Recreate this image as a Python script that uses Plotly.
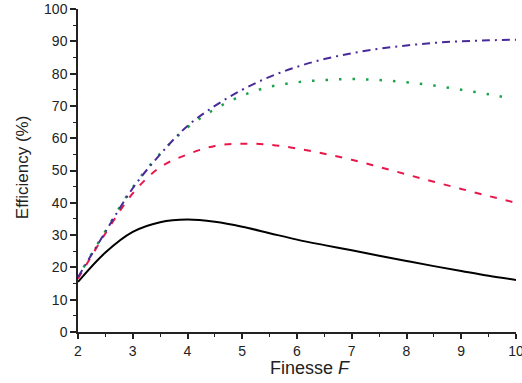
import plotly.graph_objects as go

x_black = [2, 2.5, 3, 3.5, 4, 4.5, 5, 5.5, 6, 6.5, 7, 7.5, 8, 8.5, 9, 9.5, 10]
y_black = [15.5, 24.6, 31.0, 34.0, 34.8, 34.1, 32.6, 30.6, 28.6, 26.9, 25.3, 23.6, 22.0, 20.4, 18.9, 17.4, 16.1]

x_red = [2, 2.5, 3, 3.5, 4, 4.5, 5, 5.5, 6, 6.5, 7, 7.5, 8, 8.5, 9, 9.5, 10]
y_red = [16.5, 30.5, 42.9, 51.0, 55.0, 57.6, 58.3, 58.0, 56.8, 55.2, 53.3, 51.1, 48.8, 46.5, 44.3, 42.1, 40.0]

x_green = [2.1, 2.5, 3, 3.5, 4, 4.5, 5, 5.5, 6, 6.5, 7, 7.5, 8, 8.5, 9, 9.5, 9.85]
y_green = [20.0, 31.2, 44.8, 55.2, 63.3, 69.0, 73.2, 75.9, 77.3, 78.0, 78.3, 78.0, 77.3, 76.3, 75.0, 73.6, 72.5]

x_indigo = [2, 2.5, 3, 3.5, 4, 4.5, 5, 5.5, 6, 6.5, 7, 7.5, 8, 8.5, 9, 9.5, 10]
y_indigo = [17.0, 31.0, 44.5, 55.0, 63.8, 70.0, 75.0, 79.0, 82.1, 84.5, 86.3, 87.7, 88.7, 89.5, 90.0, 90.3, 90.5]

x_ticks = [2, 3, 4, 5, 6, 7, 8, 9, 10]
y_ticks = [0, 10, 20, 30, 40, 50, 60, 70, 80, 90, 100]

fig = go.Figure()
fig.add_trace(go.Scatter(x=x_black, y=y_black, mode="lines", line=dict(color="#000000", width=2, shape="spline")))
fig.add_trace(go.Scatter(x=x_red, y=y_red, mode="lines", line=dict(color="#E8174A", width=2, shape="spline", dash="7px,9px")))
fig.add_trace(go.Scatter(x=x_green, y=y_green, mode="lines", line=dict(color="#1DA34A", width=2.5, shape="spline", dash="2.5px,11px")))
fig.add_trace(go.Scatter(x=x_indigo, y=y_indigo, mode="lines", line=dict(color="#4A2A9A", width=2, shape="spline", dash="8px,5px,2px,5px")))

font_family = "Liberation Sans, Arial, sans-serif"
fig.update_layout(
    width=522, height=383,
    margin=dict(l=78, r=6, t=9, b=51, autoexpand=False),
    plot_bgcolor="white", paper_bgcolor="white",
    showlegend=False,
    font=dict(family=font_family, color="#222222"),
    xaxis=dict(
        range=[2, 10], tickvals=x_ticks, ticktext=[str(v) for v in x_ticks],
        showgrid=False, zeroline=False, showline=True, linecolor="#222222", linewidth=1.5,
        ticks="outside", ticklen=5, tickwidth=1.5, tickcolor="#222222",
        tickfont=dict(size=14, family=font_family), ticklabeloverflow="allow",
        automargin=False,
        minor=dict(dtick=0.5, ticks="outside", ticklen=3, tickwidth=1.2, tickcolor="#222222", showgrid=False),
    ),
    yaxis=dict(
        range=[0, 100], tickvals=y_ticks, ticktext=[str(v) for v in y_ticks],
        showgrid=False, zeroline=False, showline=True, linecolor="#222222", linewidth=1.5,
        ticks="outside", ticklen=6, tickwidth=1.5, tickcolor="#222222",
        tickfont=dict(size=14, family=font_family), automargin=False,
        minor=dict(dtick=5, ticks="outside", ticklen=3, tickwidth=1.2, tickcolor="#222222", showgrid=False),
    ),
    annotations=[
        dict(text="Finesse <i>F</i>", xref="paper", yref="paper", x=0.53, y=-0.112,
             xanchor="center", yanchor="middle", showarrow=False,
             font=dict(size=18, family=font_family, color="#222222")),
        dict(text="Efficiency (%)", xref="paper", yref="paper", x=-0.128, y=0.51,
             xanchor="center", yanchor="middle", showarrow=False, textangle=-90,
             font=dict(size=17, family=font_family, color="#222222")),
    ],
)

fig.write_html("out.html")
